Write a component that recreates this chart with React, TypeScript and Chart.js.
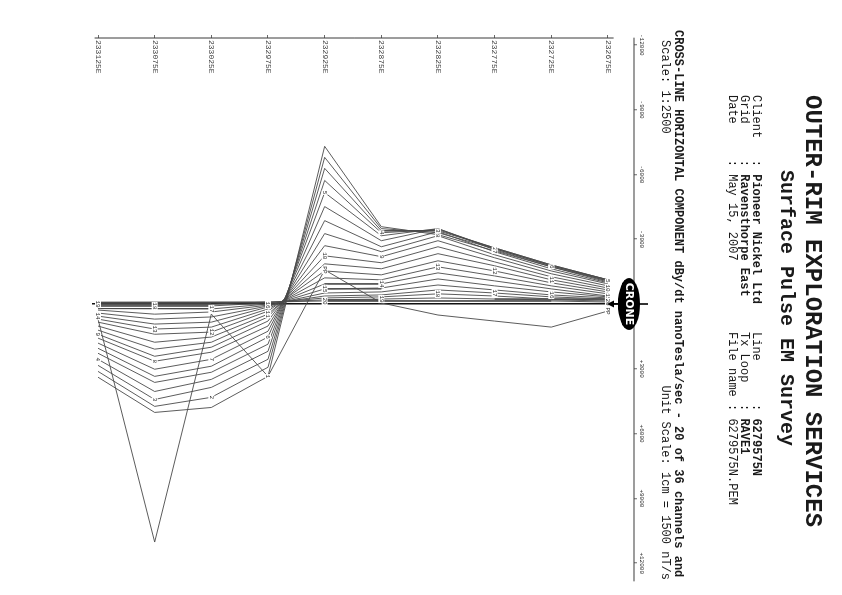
import React, { useEffect, useRef } from 'react';
import { Chart, registerables } from 'chart.js';

Chart.register(...registerables);

// Stations (easting) along the profile line
const stations = [232675, 232725, 232775, 232825, 232875, 232925, 232975, 233025, 233075, 233125];
// Value axis ticks (nT/s)
const valueTicks = [-12000, -9000, -6000, -3000, 0, 3000, 6000, 9000, 12000];
const valueTickLabels = ['-12000', '-9000', '-6000', '-3000', '', '+3000', '+6000', '+9000', '+12000'];

// Channel responses (nT/s) at each station, in station order
const ch01 = [-1070, -1720, -2460, -3210, -3580, -7300, 3350, 4790, 5020, 3390];
const ch02 = [-1120, -1770, -2560, -3300, -3490, -6790, 2930, 4320, 4740, 3120];
const ch03 = [-1120, -1810, -2600, -3390, -3390, -6280, 2560, 3860, 4420, 2840];
const ch04 = [-1120, -1810, -2600, -3440, -3300, -5720, 2190, 3490, 4050, 2560];
const ch05 = [-1070, -1770, -2560, -3490, -3160, -5160, 1860, 3160, 3630, 2280];
const ch06 = [-1020, -1720, -2510, -3490, -2930, -4510, 1530, 2880, 3350, 2050];
const ch07 = [-980, -1630, -2420, -3350, -2650, -3860, 1260, 2560, 3020, 1810];
const ch08 = [-930, -1530, -2280, -3160, -2420, -3260, 1020, 2230, 2650, 1580];
const ch09 = [-840, -1400, -2140, -2930, -2190, -2700, 790, 2000, 2420, 1400];
const ch10 = [-740, -1260, -1950, -2650, -1910, -2230, 600, 1770, 2090, 1210];
const ch11 = [-650, -1120, -1770, -2330, -1630, -1860, 470, 1530, 1770, 1020];
const ch12 = [-560, -980, -1530, -2000, -1350, -1530, 330, 1300, 1400, 840];
const ch13 = [-470, -840, -1300, -1720, -1120, -1210, 230, 1070, 1160, 700];
const ch14 = [-370, -700, -1070, -1440, -930, -930, 140, 840, 930, 560];
const ch15 = [-330, -560, -840, -1160, -740, -700, 90, 600, 700, 420];
const ch16 = [-280, -420, -650, -880, -560, -510, 50, 370, 470, 280];
const ch17 = [-230, -330, -510, -650, -420, -370, 0, 230, 230, 190];
const ch18 = [-190, -230, -370, -470, -330, -280, -50, 90, 90, 90];
const ch19 = [-140, -190, -230, -280, -230, -190, -90, 0, 0, 0];
const ch20 = [-90, -140, -140, -140, -140, -140, -90, -90, -90, -50];
// Primary pulse
const ppChannel = [325, 1070, 790, 510, -50, -1580, 3350, 465, 11020, 700];

const channelSeries = [ch01, ch02, ch03, ch04, ch05, ch06, ch07, ch08, ch09, ch10,
  ch11, ch12, ch13, ch14, ch15, ch16, ch17, ch18, ch19, ch20];
const channelNames = channelSeries.map((_, i) => String(i + 1));

const X_MIN = -12315;
const X_MAX = 13009;
const Y_MIN = 232652;
const Y_MAX = 233130.3;

const mono = "'Liberation Mono', 'Courier New', monospace";
const INK = '#1a1a1a';
const LINE = '#4a4a4a';

const decorPlugin = {
  id: 'decor',
  afterDatasetsDraw(chart: any) {
    const { ctx, chartArea, scales } = chart;
    const xs = scales.x;
    const ys = scales.y;
    ctx.save();
    // channel labels
    ctx.font = `6px ${mono}`;
    ctx.textAlign = 'center';
    ctx.textBaseline = 'middle';
    chart.data.datasets.forEach((ds: any, di: number) => {
      const meta = chart.getDatasetMeta(di);
      const name: string = ds.label;
      const k = name === 'PP' ? 0 : parseInt(name, 10) % 5;
      meta.data.forEach((pt: any, s: number) => {
        if (s % 5 !== k) return;
        const w = ctx.measureText(name).width;
        ctx.fillStyle = '#fff';
        ctx.fillRect(pt.x - w / 2 - 0.5, pt.y - 3, w + 1, 6);
        ctx.fillStyle = '#333';
        ctx.fillText(name, pt.x, pt.y);
      });
    });
    // axis lines
    ctx.strokeStyle = '#3a3a3a';
    ctx.lineWidth = 1;
    const ax = chartArea.left;
    ctx.beginPath();
    ctx.moveTo(ax, ys.getPixelForValue(232670));
    ctx.lineTo(ax, ys.getPixelForValue(233128));
    ctx.stroke();
    const ay = chartArea.top;
    ctx.beginPath();
    ctx.moveTo(xs.getPixelForValue(-12330), ay);
    ctx.lineTo(xs.getPixelForValue(12840), ay);
    ctx.stroke();
    // logo
    const cx = xs.getPixelForValue(0);
    const cy = ay + 5;
    ctx.strokeStyle = '#000';
    ctx.lineWidth = 1.6;
    ctx.beginPath();
    ctx.moveTo(cx, ay - 14);
    ctx.lineTo(cx, ay + 24);
    ctx.stroke();
    ctx.fillStyle = '#000';
    ctx.beginPath();
    ctx.moveTo(cx, ay + 27);
    ctx.lineTo(cx - 3.5, ay + 20);
    ctx.lineTo(cx + 3.5, ay + 20);
    ctx.closePath();
    ctx.fill();
    ctx.beginPath();
    ctx.ellipse(cx, cy, 26, 11, 0, 0, Math.PI * 2);
    ctx.fill();
    ctx.fillStyle = '#fff';
    ctx.font = `bold 11px 'DejaVu Sans', sans-serif`;
    ctx.textAlign = 'center';
    ctx.textBaseline = 'middle';
    ctx.fillText('CRONE', cx, cy + 0.5);
    ctx.restore();
  },
};

export default function App() {
  const canvasRef = useRef<HTMLCanvasElement>(null);

  useEffect(() => {
    document.documentElement.style.overflow = 'hidden';
    document.body.style.overflow = 'hidden';
    const toPoints = (vals: number[]) => stations.map((s, i) => ({ x: vals[i], y: s }));
    const datasets: any[] = channelSeries.map((vals, i) => ({
      label: channelNames[i],
      data: toPoints(vals),
      showLine: true,
      borderColor: LINE,
      borderWidth: 0.9,
      pointRadius: 0,
      fill: false,
      tension: 0,
    }));
    datasets.push({
      label: 'PP',
      data: toPoints(ppChannel),
      showLine: true,
      borderColor: LINE,
      borderWidth: 0.9,
      pointRadius: 0,
      fill: false,
      tension: 0,
    });

    const chart = new Chart(canvasRef.current as HTMLCanvasElement, {
      type: 'scatter',
      data: { datasets },
      options: {
        responsive: false,
        animation: false,
        devicePixelRatio: 1,
        layout: { padding: { left: 38, top: 194, right: 10, bottom: 92 } },
        plugins: { legend: { display: false }, tooltip: { enabled: false }, title: { display: false } },
        scales: {
          x: {
            type: 'linear',
            position: 'top',
            min: X_MIN,
            max: X_MAX,
            afterBuildTicks: (s: any) => { s.ticks = valueTicks.map((v) => ({ value: v })); },
            afterFit: (s: any) => { s.height = 14; },
            ticks: {
              autoSkip: false,
              maxRotation: 0,
              minRotation: 0,
              padding: 1,
              color: '#333',
              font: { family: mono, size: 6 },
              callback: (v: any) => valueTickLabels[valueTicks.indexOf(Number(v))] ?? '',
            },
            grid: {
              drawOnChartArea: true,
              color: (c: any) => (c.tick && c.tick.value === 0 ? '#111' : 'rgba(0,0,0,0)'),
              lineWidth: 1.5,
              tickColor: '#444',
              tickWidth: 0.8,
              tickLength: 3,
            },
            border: { display: false },
          },
          y: {
            type: 'linear',
            position: 'left',
            reverse: true,
            min: Y_MIN,
            max: Y_MAX,
            afterBuildTicks: (s: any) => { s.ticks = stations.map((v) => ({ value: v })); },
            afterFit: (s: any) => { s.width = 0; },
            ticks: {
              autoSkip: false,
              mirror: true,
              padding: 2,
              color: '#444',
              font: { family: mono, size: 8 },
              callback: (v: any) => `${v}E`,
            },
            grid: {
              drawOnChartArea: false,
              tickColor: '#444',
              tickWidth: 0.8,
              tickLength: 3,
            },
            border: { display: false },
          },
        },
      },
      plugins: [decorPlugin],
    } as any);
    return () => chart.destroy();
  }, []);

  const abs: React.CSSProperties = {
    position: 'absolute',
    fontFamily: mono,
    color: INK,
    lineHeight: 1,
    whiteSpace: 'pre',
    margin: 0,
  };

  return (
    <div style={{ position: 'fixed', left: 0, top: 0, width: 842, height: 595, overflow: 'hidden', background: '#fff' }}>
      <div
        style={{
          position: 'absolute',
          left: 0,
          top: 0,
          width: 595,
          height: 842,
          transformOrigin: '0 0',
          transform: 'translate(842px, 0px) rotate(90deg)',
          background: '#fff',
        }}
      >
        <canvas ref={canvasRef} width={595} height={842} style={{ position: 'absolute', left: 0, top: 0, width: 595, height: 842 }} />
        <div style={{ ...abs, left: 95, top: 18, fontSize: 24, fontWeight: 'bold' }}>OUTER-RIM EXPLORATION SERVICES</div>
        <div style={{ ...abs, left: 170, top: 46, fontSize: 20, fontWeight: 'bold' }}>Surface Pulse EM Survey</div>
        <div style={{ ...abs, left: 95, top: 80, fontSize: 12 }}>Client   : <b>Pioneer Nickel Ltd</b></div>
        <div style={{ ...abs, left: 95, top: 92, fontSize: 12 }}>Grid     : <b>Ravensthorpe East</b></div>
        <div style={{ ...abs, left: 95, top: 104, fontSize: 12 }}>Date     : May 15, 2007</div>
        <div style={{ ...abs, left: 332, top: 80, fontSize: 12 }}>Line      : <b>6279575N</b></div>
        <div style={{ ...abs, left: 332, top: 92, fontSize: 12 }}>Tx Loop   : <b>RAVE1</b></div>
        <div style={{ ...abs, left: 332, top: 104, fontSize: 12 }}>File name : 6279575N.PEM</div>
        <div style={{ ...abs, left: 30, top: 158, fontSize: 12, fontWeight: 'bold' }}>CROSS-LINE HORIZONTAL COMPONENT dBy/dt nanoTesla/sec - 20 of 36 channels and</div>
        <div style={{ ...abs, left: 40, top: 171, fontSize: 12 }}>Scale: 1:2500</div>
        <div style={{ ...abs, right: 15, top: 171, fontSize: 12 }}>Unit Scale: 1cm = 1500 nT/s</div>
      </div>
    </div>
  );
}
